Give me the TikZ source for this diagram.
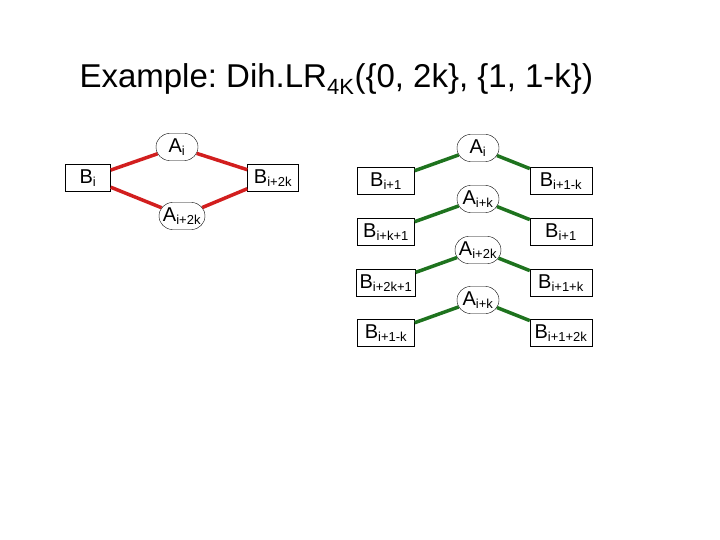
\documentclass[tikz,border=0pt]{standalone}
\usepackage{fontspec}
\setmainfont{Liberation Sans}
\usetikzlibrary{shapes.misc}
\definecolor{redline}{RGB}{210,30,30}
\definecolor{greenline}{RGB}{30,115,30}
\newcommand{\sub}[1]{$_{\mbox{\fontsize{13}{13}\selectfont #1}}$}
\frenchspacing
\begin{document}
\begin{tikzpicture}[x=1pt,y=-1pt,
    b node/.style={draw,fill=white,rectangle,font=\fontsize{20}{20}\selectfont,minimum height=27pt,inner sep=3pt},
    a node/.style={draw,fill=white,rounded rectangle,font=\fontsize{20}{20}\selectfont,minimum height=27pt,minimum width=44pt,inner sep=1pt},
    red link/.style={draw=redline,line width=3.5pt},
    green link/.style={draw=greenline,line width=3.5pt}]
  \useasboundingbox (0,0) rectangle (720,540);
  \node[anchor=base west,font=\fontsize{33}{33}\selectfont] (title) at (76,88) {Example: Dih.LR$_{\mbox{\fontsize{22}{22}\selectfont 4K}}$(\{0, 2k\}, \{1, 1-k\})};
  % left cycle
  \node[b node,minimum width=45pt] (bi) at (88,178) {B\sub{i}};
  \node[a node] (ai) at (177,147) {A\sub{i}};
  \node[b node,minimum width=51pt] (bi2k) at (273,178) {B\sub{i+2k}};
  \node[a node] (ai2k) at (182,216) {A\sub{i+2k}};
  \path[red link] (bi) -- (ai) -- (bi2k) -- (ai2k) -- (bi);
  % right column
  \foreach \y/\a/\l/\r [count=\n] in {
      148/i/i+1/i+1-k,
      199/i+k/i+k+1/i+1,
      250/i+2k/i+2k+1/i+1+k,
      300/i+k/i+1-k/i+1+2k} {
    \node[b node,minimum width=57pt] (bl\n) at (386,\y+33) {B\sub{\l}};
    \node[b node,minimum width=62pt] (br\n) at (561,\y+33) {B\sub{\r}};
    \node[a node] (an\n) at (478,\y) {A\sub{\a}};
    \path[green link] (bl\n) -- (an\n) -- (br\n);
  }
\end{tikzpicture}
\end{document}
